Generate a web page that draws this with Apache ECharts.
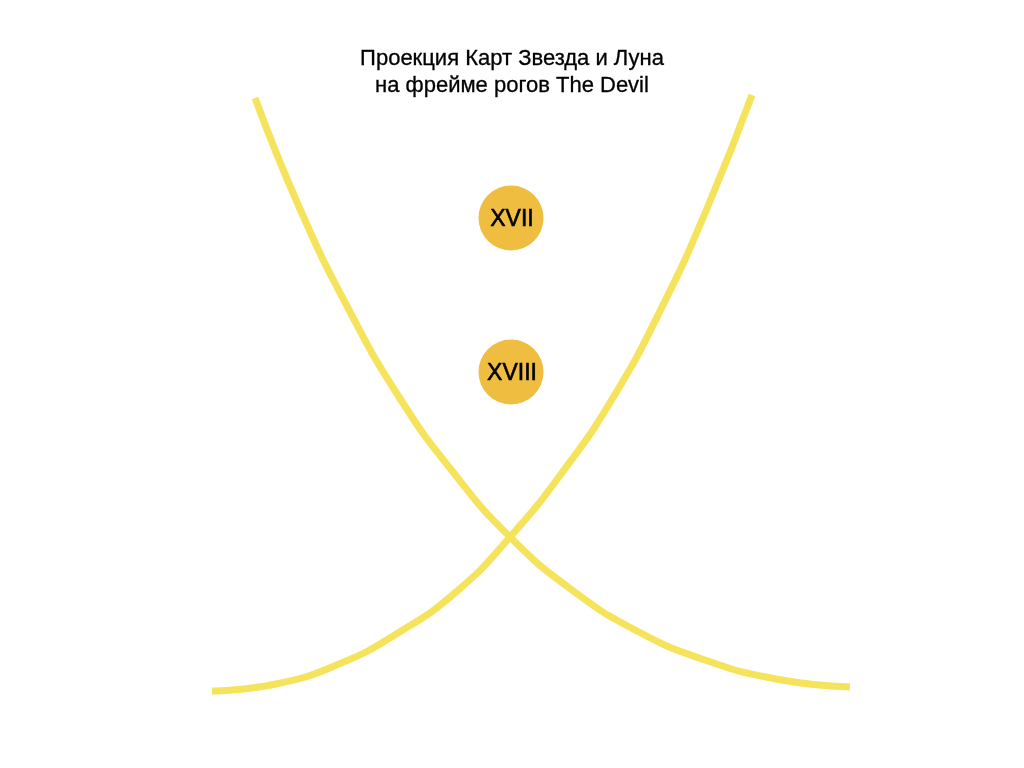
<!DOCTYPE html>
<html>
<head>
<meta charset="utf-8">
<script src="https://cdn.jsdelivr.net/npm/echarts@6/dist/echarts.min.js"></script>
<style>html,body{margin:0;padding:0;background:#fff}#c{width:1024px;height:768px}</style>
</head>
<body>
<div id="c"></div>
<script>
var titleLines = ['Проекция Карт Звезда и Луна', 'на фрейме рогов The Devil'];
// Horn curves (x, y in picture units, y downward)
var hornFalling = [[255,98],[300,209],[348,308],[399,397],[453,472],[510,537],[572,590],[637,631],[705,660],[776,679],[850,687]];
var hornRising = [[212,691],[276,684],[339,664],[398,633],[456,592],[510,537],[564,470],[614,396],[663,305],[708,206],[752,95]];
var cardLabels = ['XVII', 'XVIII'];
var cardPositions = [[511,218],[511,372]];

var chart = echarts.init(document.getElementById('c'));
var lineStyle = {color:'#F6E35C', width:7, cap:'butt'};
chart.setOption({
  backgroundColor:'#ffffff',
  animation:false,
  title:{
    text: titleLines.join('\n'),
    left:'center', top:40,
    textStyle:{fontFamily:'Liberation Sans, Arial, sans-serif', fontSize:22, fontWeight:'normal', color:'#000', lineHeight:27, textBorderColor:'#000', textBorderWidth:0.3}
  },
  grid:{left:0, right:0, top:0, bottom:0},
  xAxis:{type:'value', min:0, max:1024, show:false},
  yAxis:{type:'value', min:0, max:768, inverse:true, show:false},
  series:[
    {type:'line', data:hornFalling, smooth:0.5, showSymbol:false, lineStyle:lineStyle, silent:true},
    {type:'line', data:hornRising, smooth:0.5, showSymbol:false, lineStyle:lineStyle, silent:true},
    {type:'scatter', symbolSize:65, z:5,
     itemStyle:{color:'#EFBD40', opacity:1},
     data: cardPositions.map(function(p,i){return {value:p, name:cardLabels[i]};}),
     label:{show:true, position:'inside', offset:[1,2], formatter:function(p){return p.name;}, color:'#000', fontSize:23, fontFamily:'Liberation Sans, Arial, sans-serif', textBorderColor:'#000', textBorderWidth:0.6}
    }
  ]
});
</script>
</body>
</html>
